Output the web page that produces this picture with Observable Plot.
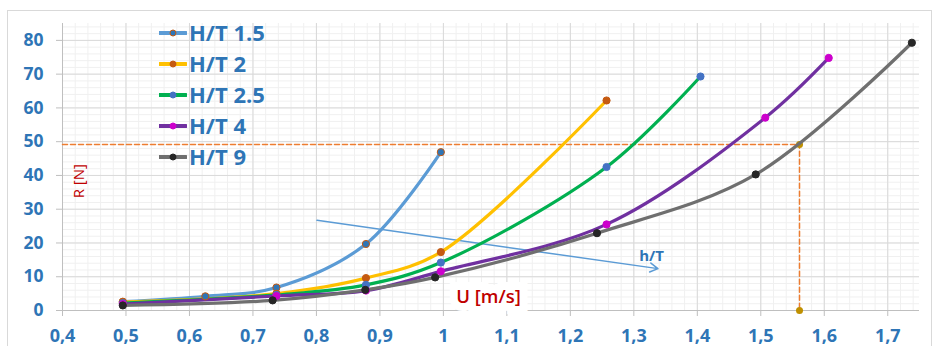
<!DOCTYPE html>
<html>
<head>
<meta charset="utf-8">
<script src="https://cdn.jsdelivr.net/npm/d3@7"></script>
<script src="https://cdn.jsdelivr.net/npm/@observablehq/plot@0.6"></script>
<style>
  html, body { margin: 0; padding: 0; background: #fff; }
  #wrap { position: relative; width: 939px; height: 346px; overflow: hidden; font-family: "Open Sans", sans-serif; }
  #frame { position: absolute; left: 7px; top: 10px; width: 925px; height: 360px; border: 1px solid #D9D9D9; box-sizing: border-box; pointer-events: none; }
  #legend { position: absolute; left: 159px; top: 17px; }
  .row { display: flex; align-items: center; height: 31px; }
  .row span { font-size: 22px; font-weight: bold; color: #2E75B6; margin-left: 2px; line-height: 31px; }
</style>
</head>
<body>
<div id="wrap"><div id="frame"></div><div id="chart"></div><div id="legend"></div></div>
<script>
// ---- data ----
const seriesNames = ["H/T 1.5", "H/T 2", "H/T 2.5", "H/T 4", "H/T 9"];
const u15 = [0.495, 0.625, 0.737, 0.878, 0.996];
const r15 = [2.6, 4.2, 6.8, 19.7, 46.9];
const u2  = [0.495, 0.737, 0.878, 0.996, 1.257];
const r2  = [2.5, 5.0, 9.6, 17.3, 62.2];
const u25 = [0.495, 0.737, 0.878, 0.996, 1.257, 1.405];
const r25 = [2.2, 4.6, 7.6, 14.2, 42.5, 69.3];
const u4  = [0.495, 0.737, 0.878, 0.996, 1.257, 1.507, 1.607];
const r4  = [1.9, 4.3, 5.9, 11.6, 25.5, 57.1, 74.8];
const u9  = [0.495, 0.731, 0.877, 0.987, 1.242, 1.492, 1.738];
const r9  = [1.5, 3.0, 6.1, 9.8, 22.9, 40.3, 79.3];
const xTicks = [0.4, 0.5, 0.6, 0.7, 0.8, 0.9, 1.0, 1.1, 1.2, 1.3, 1.4, 1.5, 1.6, 1.7];
const yTicks = [0, 10, 20, 30, 40, 50, 60, 70, 80];
// reference reading (orange dashed)
const refU = 1.561;
const refR = 49.2;
// h/T arrow
const arrowFrom = [0.801, 26.7];
const arrowTo = [1.338, 12.4];

// ---- styles ----
const lineColors = ["#5B9BD5", "#FFC000", "#00B050", "#7030A0", "#6F6F6F"];
const dotFill = ["#2E75B6", "#C55A11", "#4472C4", "#CC00CC", "#262626"];
const dotStroke = ["#C55A11", "#C55A11", "#4472C4", "#CC00CC", "#262626"];

const us = [u15, u2, u25, u4, u9];
const rs = [r15, r2, r25, r4, r9];
const series = seriesNames.map((name, i) => us[i].map((u, j) => ({name, u, r: rs[i][j]})));

const minorX = d3.range(0, 68).map(i => +(0.4 + i * 0.02).toFixed(2)).filter(v => v <= 1.75);
const minorY = d3.range(0, 43).map(i => i * 2).filter(v => v <= 85);
const fmt = d => String(+d.toFixed(1)).replace(".", ",");

const marks = [
  Plot.gridX(minorX, {stroke: "#F0F0F0", strokeOpacity: 1}),
  Plot.gridY(minorY, {stroke: "#F0F0F0", strokeOpacity: 1}),
  Plot.gridX(xTicks, {stroke: "#D9D9D9", strokeOpacity: 1}),
  Plot.gridY(yTicks, {stroke: "#D9D9D9", strokeOpacity: 1}),
  Plot.ruleX([0.4], {stroke: "#BFBFBF"}),
  Plot.ruleY([0], {stroke: "#BFBFBF"}),
  Plot.axisX({ticks: xTicks, tickSize: 6, tickPadding: 13, stroke: "#BFBFBF", fill: "#2E75B6",
    fontSize: 18, fontWeight: "bold", tickFormat: fmt, label: null}),
  Plot.axisY({ticks: yTicks, tickSize: 6, tickPadding: 13, stroke: "#BFBFBF", fill: "#2E75B6",
    fontSize: 17.5, fontWeight: "bold", label: null}),
  Plot.line([{u: 0.4, r: refR}, {u: refU, r: refR}, {u: refU, r: 0}],
    {x: "u", y: "r", stroke: "#ED7D31", strokeWidth: 1.5, strokeDasharray: "5,3"}),
  Plot.dot([{u: refU, r: refR}, {u: refU, r: 0}], {x: "u", y: "r", r: 3.5, fill: "#BF9000"}),
  Plot.arrow([{x1: arrowFrom[0], y1: arrowFrom[1], x2: arrowTo[0], y2: arrowTo[1]}],
    {x1: "x1", y1: "y1", x2: "x2", y2: "y2", stroke: "#5B9BD5", strokeWidth: 1.5, headLength: 9, bend: 0}),
  Plot.text(["h/T"], {x: 1.328, y: 16, fill: "#2E75B6", fontSize: 15, fontWeight: "bold"}),
  Plot.text(["U [m/s]"], {x: 1.071, y: 3.9, fill: "#C00000", fontSize: 18.5, fontWeight: 600, stroke: "white", strokeWidth: 16, strokeLinejoin: "miter"}),
  Plot.text(["R [N]"], {x: 0.4265, y: 38.3, fill: "#C00000", fontSize: 15, rotate: -90})
];
series.forEach((s, i) => {
  marks.push(Plot.line(s, {x: "u", y: "r", stroke: lineColors[i], strokeWidth: 3.2, curve: "catmull-rom"}));
});
series.forEach((s, i) => {
  marks.push(Plot.dot(s, {x: "u", y: "r", r: 3.6, fill: dotFill[i], stroke: dotStroke[i], strokeWidth: 1}));
});

const chart = Plot.plot({
  width: 939, height: 346,
  marginLeft: 62, marginRight: 20, marginTop: 23, marginBottom: 36,
  x: {domain: [0.4, 1.75]},
  y: {domain: [0, 85]},
  style: {fontFamily: "Open Sans, sans-serif", background: "transparent"},
  marks
});
document.getElementById("chart").appendChild(chart);

// legend
const legend = d3.select("#legend");
seriesNames.forEach((name, i) => {
  const row = legend.append("div").attr("class", "row");
  const svg = row.append("svg").attr("width", 28).attr("height", 12);
  svg.append("line").attr("x1", 0).attr("x2", 27).attr("y1", 6).attr("y2", 6)
    .attr("stroke", lineColors[i]).attr("stroke-width", 4).attr("stroke-linecap", "round");
  svg.append("circle").attr("cx", 14).attr("cy", 6).attr("r", 3)
    .attr("fill", dotFill[i]).attr("stroke", dotStroke[i]).attr("stroke-width", 1);
  row.append("span").text(name);
});
</script>
</body>
</html>
